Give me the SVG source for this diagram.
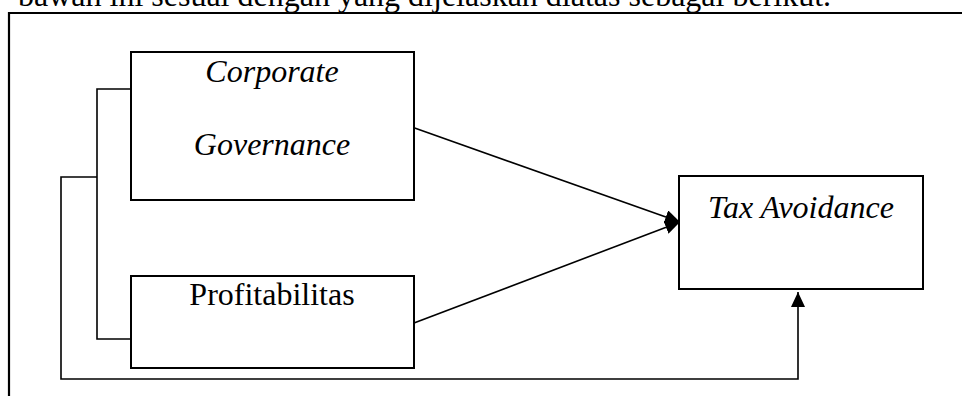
<svg xmlns="http://www.w3.org/2000/svg" width="962" height="396" viewBox="0 0 962 396">
  <style>
    .box { fill: #ffffff; stroke: #000000; stroke-width: 2; }
    .frame { fill: none; stroke: #000000; stroke-width: 2.2; }
    .conn { fill: none; stroke: #000000; stroke-width: 1.6; }
    .lbl { font-family: "Liberation Serif", "Times New Roman", serif; font-size: 32px; fill: #000000; }
    .it { font-style: italic; }
  </style>
  <defs>
    <marker id="arrow" markerUnits="userSpaceOnUse" markerWidth="16" markerHeight="14" refX="15" refY="7" orient="auto">
      <path d="M0,0 L15,7 L0,14 z" fill="#000000"/>
    </marker>
  </defs>
  <rect x="0" y="0" width="962" height="396" fill="#ffffff"/>
  <text class="lbl" x="18" y="6">bawah ini sesuai dengan yang dijelaskan diatas sebagai berikut.</text>
  <path class="frame" d="M9,396 L9,13 L962,13"/>

  <g id="connectors">
    <path class="conn" d="M132,89 L97,89 L97,339 L132,339"/>
    <path class="conn" d="M97,177 L61,177 L61,379 L798,379 L798,292" marker-end="url(#arrow)"/>
    <path class="conn" d="M409,126 L680,222" marker-end="url(#arrow)"/>
    <path class="conn" d="M414,323 L680,222" marker-end="url(#arrow)"/>
  </g>

  <g id="corporate-governance">
    <rect class="box" x="131" y="52" width="283" height="148"/>
    <text class="lbl it" x="272" y="82" text-anchor="middle">Corporate</text>
    <text class="lbl it" x="272" y="155" text-anchor="middle">Governance</text>
  </g>

  <g id="profitabilitas">
    <rect class="box" x="131" y="276" width="283" height="92"/>
    <text class="lbl" x="272" y="305" text-anchor="middle">Profitabilitas</text>
  </g>

  <g id="tax-avoidance">
    <rect class="box" x="679" y="176" width="244" height="113"/>
    <text class="lbl it" x="801" y="218" text-anchor="middle">Tax Avoidance</text>
  </g>
</svg>
